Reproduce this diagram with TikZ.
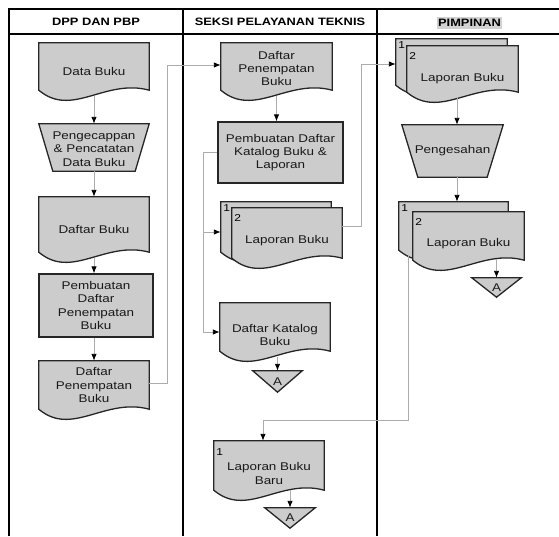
\documentclass[tikz,border=0pt]{standalone}
\usepackage{fontspec}
\setmainfont{Liberation Sans}[FakeStretch=1.2]
\usetikzlibrary{arrows.meta,backgrounds,calc}
\newcommand\docshp[1]{\filldraw[shp] let \p1=(#1.south west), \p2=(#1.south east), \n1={\x2-\x1} in
  (#1.north west) -- (#1.north east) -- (\x2,\y1+10pt)
  .. controls ({\x1+0.6*\n1*1pt},{\y1+22pt}) and ({\x1+0.3*\n1*1pt},{\y1-18pt}) .. (\x1,\y1+10pt) -- cycle;}
\newcommand\trapshp[2]{\filldraw[shp] (#1.north west) -- (#1.north east) -- ([xshift=-#2pt]#1.south east) -- ([xshift=#2pt]#1.south west) -- cycle;}
\newcommand\trishp[1]{\filldraw[shp] (#1.north west) -- (#1.north east) -- (#1.south) -- cycle;}
\begin{document}
\begin{tikzpicture}[x=1pt,y=-1pt,
  txt/.style={font=\fontsize{11.2}{13.3}\selectfont, align=center, inner sep=0pt, text=black!90},
  hdr/.style={font=\bfseries\fontsize{10.7}{12}\selectfont, inner sep=0pt},
  shp/.style={fill=gray!40, draw=black!85, line width=1.3pt},
  docn/.style 2 args={txt, minimum width=#1pt, minimum height=#2pt},
  rectn/.style 2 args={txt, shp, minimum width=#1pt, minimum height=#2pt},
  lbl/.style 2 args={label={[txt,yshift=#1pt]center:{#2}}},
  num/.style={font=\fontsize{10}{10}\selectfont, inner sep=0pt},
  conn/.style={draw=gray!65, line width=0.9pt, -{Latex[length=7pt,width=5.5pt,color=black]}},
  frame/.style={line width=1.6pt, draw=black}]
\useasboundingbox (0,0) rectangle (559,536);
% frame
\draw[frame] (9,536) -- (9,9) -- (559,9);
\draw[frame] (9,34) -- (559,34);
\draw[frame] (183,9) -- (183,536);
\draw[frame] (377,9) -- (377,536);
% headers
\node[hdr] (h1) at (96,22) {DPP DAN PBP};
\node[hdr] (h2) at (280,22) {SEKSI PELAYANAN TEKNIS};
\node[hdr, fill=gray!35, inner xsep=1.5pt, inner ysep=2.5pt] (h3) at (469.5,23) {PIMPINAN};
% column 1
\node[docn={110}{57}] (d1) at (94,71.5) {Data Buku};
\node[docn={110}{47}, lbl={-1.5}{Pengecappan\\\& Pencatatan\\Data Buku}] (t1) at (94,147.5) {};
\node[docn={110}{65}] (d2) at (94,229.5) {Daftar Buku};
\node[rectn={114}{63}] (r1) at (96,305.5) {Pembuatan\\Daftar\\Penempatan\\Buku};
\node[docn={110}{58}, lbl={5}{Daftar\\Penempatan\\Buku}] (d3) at (94,390) {};
% column 2
\node[docn={111}{57}, lbl={3}{Daftar\\Penempatan\\Buku}] (e1) at (276.5,71.5) {};
\node[rectn={125}{61}] (r2) at (280.5,152.5) {Pembuatan Daftar\\Katalog Buku \&\\Laporan};
\node[docn={110}{60}] (s2b) at (276,232) {};
\node[docn={110}{60}, lbl={-3}{Laporan Buku}] (f2) at (287,238) {};
\node[docn={110}{58}, lbl={-3}{Daftar Katalog\\Buku}] (k2) at (275,332) {};
\node[docn={49}{21}] (tri2) at (277.5,381.5) {A};
\node[docn={110}{59}, lbl={-3}{Laporan Buku\\Baru}] (L2) at (269,470.5) {};
\node[docn={50}{20}] (tri2b) at (290,518) {A};
% column 3
\node[docn={111}{56}] (g1b) at (451.5,67) {};
\node[docn={111}{56}, lbl={-4.5}{Laporan Buku}] (g1) at (462.5,74) {};
\node[docn={101}{52}] (p3) at (452.5,151) {Pengesahan};
\node[docn={109}{58}] (g2b) at (453.5,231) {};
\node[docn={111}{58}, lbl={-3}{Laporan Buku}] (g2) at (468.5,241) {};
\node[docn={49}{19}] (tri3) at (496.5,287.5) {A};
% shapes behind text
\begin{scope}[on background layer]
\fill[white] (0,0) rectangle (559,536);
\docshp{d1}
\trapshp{t1}{14}
\docshp{d2}
\docshp{d3}
\docshp{e1}
\docshp{s2b}
\docshp{f2}
\docshp{k2}
\trishp{tri2}
\docshp{L2}
\trishp{tri2b}
\docshp{g1b}
\docshp{g1}
\trapshp{p3}{16}
\docshp{g2b}
\docshp{g2}
\trishp{tri3}
\end{scope}
% copy numbers
\node[num] (n1a) at ([xshift=6pt,yshift=-6pt]s2b.north west) {1};
\node[num] (n1b) at ([xshift=6pt,yshift=-10pt]f2.north west) {2};
\node[num] (n2a) at ([xshift=6pt,yshift=-6pt]g1b.north west) {1};
\node[num] (n2b) at ([xshift=6pt,yshift=-10pt]g1.north west) {2};
\node[num] (n3a) at ([xshift=6pt,yshift=-6pt]g2b.north west) {1};
\node[num] (n3b) at ([xshift=6pt,yshift=-10pt]g2.north west) {2};
\node[num] (n4a) at ([xshift=6pt,yshift=-11pt]L2.north west) {1};
% helper coordinates
\coordinate (c1) at (167,65);
\coordinate (c2) at (203,152.5);
\coordinate (c4) at (361,64);
\coordinate (c3) at (409,420);
\coordinate (ax3) at (457,0);
\coordinate (L2in) at ([xshift=-6pt]L2.north);
% connectors column 1
\draw[conn, shorten <=-4pt] (d1.south) -- (t1.north);
\draw[conn] (t1.south) -- (d2.north);
\draw[conn, shorten <=-4pt] (d2.south) -- (d2.south |- r1.north);
\draw[conn] (r1.south -| d3.north) -- (d3.north);
\draw[conn] ([yshift=7pt]d3.east) -| (c1) -- (c1 -| e1.west);
% column 2
\draw[conn, shorten <=-4pt] (e1.south) -- (e1.south |- r2.north);
\draw[conn] (r2.west) -- (c2) |- (k2.west);
\draw[conn] (c2 |- s2b.west) -- (s2b.west);
\draw[conn, shorten <=-4.5pt] (tri2.north |- k2.south) -- (tri2.north);
\draw[conn] ([yshift=12pt]f2.east) -| (c4) -- (c4 -| g1b.west);
\draw[conn, shorten <=-10pt] (tri2b.north |- L2.south) -- (tri2b.north);
% column 3
\draw[conn, shorten <=-4pt] (ax3 |- g1.south) -- (ax3 |- p3.north);
\draw[conn] (ax3 |- p3.south) -- (ax3 |- g2b.north);
\draw[conn, shorten <=-11pt] (tri3.north |- g2.south) -- (tri3.north);
\draw[conn] ([xshift=10pt,yshift=4pt]g2b.south west) |- (L2in |- c3) -- (L2in);
\end{tikzpicture}
\end{document}
